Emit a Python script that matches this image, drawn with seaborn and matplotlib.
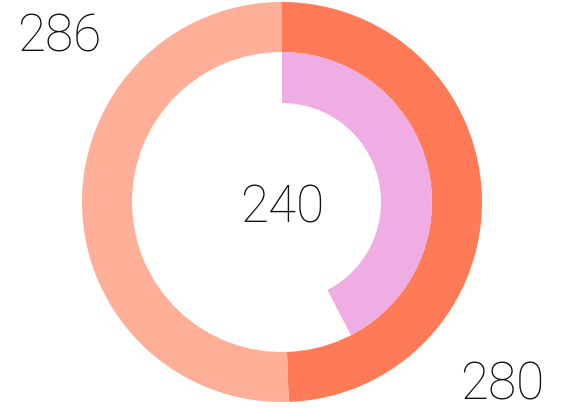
import matplotlib
matplotlib.use("Agg")
import matplotlib.pyplot as plt
import seaborn as sns

# --- DATA ---
outer_labels = ["280", "286"]
outer_values = [280, 286]
inner_value = 240
total = sum(outer_values)

COLORS = ["#FF7B57", "#FFAE97"]
INNER_COLOR = "#EFADE3"

sns.set_theme(style="white")
plt.rcParams["font.family"] = ["Roboto", "DejaVu Sans"]

W, H = 565, 410
fig = plt.figure(figsize=(W / 100, H / 100), dpi=100)
ax = fig.add_axes([82 / W, 7 / H, 400 / W, 400 / H])

# outer ring, clockwise from 12 o'clock
ax.pie(outer_values, colors=COLORS, startangle=90, counterclock=False,
       radius=1.0, wedgeprops=dict(width=0.25, linewidth=0))
# inner ring on the same scale as the outer total
ax.pie([inner_value, total - inner_value], colors=[INNER_COLOR, "none"],
       startangle=90, counterclock=False, radius=0.75,
       wedgeprops=dict(width=0.255, linewidth=0))
ax.set_xlim(-1, 1)
ax.set_ylim(-1, 1)
ax.set_aspect("equal")
ax.axis("off")

txt = dict(fontsize=37, fontweight="light", color="#111111", va="baseline")
fig.text(17 / W, 358 / H, outer_labels[1], ha="left", **txt)
fig.text(460 / W, 10 / H, outer_labels[0], ha="left", **txt)
fig.text(282 / W, 187 / H, str(inner_value), ha="center", **txt)

fig.savefig("out.png", dpi=100)
